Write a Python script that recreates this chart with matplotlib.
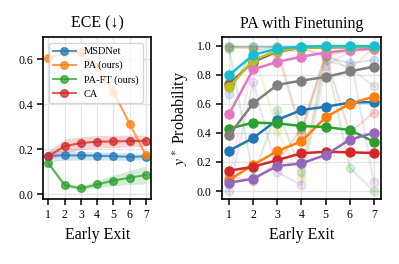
import matplotlib
matplotlib.use("Agg")
import matplotlib.pyplot as plt
import numpy as np

exits = [1, 2, 3, 4, 5, 6, 7]

# ECE per early exit
ece_msdnet = [0.170, 0.172, 0.172, 0.171, 0.168, 0.166, 0.167]
ece_msdnet_lo = [0.145, 0.150, 0.152, 0.152, 0.150, 0.150, 0.152]
ece_msdnet_hi = [0.195, 0.192, 0.190, 0.188, 0.185, 0.182, 0.182]
ece_pa = [0.607, 0.625, 0.630, 0.565, 0.455, 0.313, 0.172]
ece_paft = [0.137, 0.040, 0.025, 0.043, 0.060, 0.073, 0.085]
ece_paft_lo = [0.130, 0.030, 0.018, 0.030, 0.037, 0.042, 0.046]
ece_paft_hi = [0.145, 0.050, 0.035, 0.060, 0.085, 0.105, 0.125]
ece_ca = [0.168, 0.213, 0.227, 0.233, 0.234, 0.236, 0.237]
ece_ca_lo = [0.150, 0.182, 0.198, 0.205, 0.207, 0.210, 0.212]
ece_ca_hi = [0.190, 0.245, 0.255, 0.260, 0.261, 0.262, 0.262]

# y* probability per sample, with finetuning (bold) and without (faint)
prob_ft = [
    [0.278, 0.365, 0.490, 0.557, 0.580, 0.608, 0.612],
    [0.076, 0.180, 0.275, 0.342, 0.507, 0.600, 0.650],
    [0.430, 0.470, 0.466, 0.447, 0.440, 0.420, 0.340],
    [0.140, 0.167, 0.213, 0.260, 0.270, 0.266, 0.262],
    [0.057, 0.085, 0.172, 0.190, 0.248, 0.353, 0.400],
    [0.735, 0.890, 0.960, 0.985, 0.988, 0.990, 0.990],
    [0.530, 0.837, 0.888, 0.924, 0.952, 0.970, 0.977],
    [0.385, 0.603, 0.730, 0.760, 0.784, 0.823, 0.855],
    [0.715, 0.900, 0.965, 0.985, 0.988, 0.990, 0.992],
    [0.798, 0.936, 0.980, 0.993, 0.997, 0.997, 0.997],
]
prob_noft = [
    [0.670, 0.970, 0.990, 0.990, 0.920, 0.880, 0.900],
    [0.990, 0.980, 0.940, 0.400, 0.950, 0.830, 0.990],
    [0.980, 0.100, 0.560, 0.130, 0.930, 0.160, 0.000],
    [0.100, 0.070, 0.200, 0.430, 0.930, 0.400, 0.540],
    [0.000, 0.750, 0.130, 0.040, 0.860, 0.960, 0.060],
    [0.990, 0.990, 0.990, 0.990, 0.990, 0.990, 0.990],
    [0.100, 0.880, 0.950, 0.970, 0.940, 0.960, 0.980],
    [0.990, 0.990, 0.990, 0.400, 0.900, 0.850, 0.720],
    [0.990, 0.980, 0.410, 0.090, 0.920, 0.980, 0.980],
    [0.995, 0.995, 0.995, 0.995, 0.995, 0.995, 0.995],
]

plt.rcParams["font.family"] = "Liberation Serif"
plt.rcParams["mathtext.fontset"] = "stix"

fig = plt.figure(figsize=(3.99, 2.64), dpi=100)
ax1 = fig.add_axes([0.109, 0.246, 0.269, 0.612])
ax2 = fig.add_axes([0.556, 0.246, 0.399, 0.612])

colors = plt.get_cmap("tab10").colors

for ax in (ax1, ax2):
    ax.grid(True, color="#e3e3e3", linewidth=0.9)
    ax.set_axisbelow(True)
    for s in ax.spines.values():
        s.set_linewidth(1.2)
        s.set_color("black")
    ax.tick_params(labelsize=8.5, length=4, width=1.1, color="black")
    ax.set_xticks(exits)
    ax.set_xlabel("Early Exit", fontsize=11.5)

# left: ECE
mk = dict(marker="o", markersize=5.5, linewidth=1.5, alpha=0.75)
ax1.fill_between(exits, ece_msdnet_lo, ece_msdnet_hi, color=colors[0], alpha=0.2, lw=0)
ax1.fill_between(exits, ece_paft_lo, ece_paft_hi, color=colors[2], alpha=0.2, lw=0)
ax1.fill_between(exits, ece_ca_lo, ece_ca_hi, color=colors[3], alpha=0.2, lw=0)
ax1.plot(exits, ece_msdnet, color=colors[0], label="MSDNet", **mk)
ax1.plot(exits, ece_pa, color=colors[1], label="PA (ours)", **mk)
ax1.plot(exits, ece_paft, color=colors[2], label="PA-FT (ours)", **mk)
ax1.plot(exits, ece_ca, color=colors[3], label="CA", **mk)
ax1.set_ylim(-0.022, 0.696)
ax1.set_yticks([0.0, 0.2, 0.4, 0.6])
ax1.set_title("ECE (↓)", fontsize=11.5, pad=7)
ax1.legend(loc="upper left", fontsize=7.5, framealpha=0.8, borderpad=0.4,
           handlelength=2.2, labelspacing=0.45, edgecolor="#cccccc")

# right: y* probability
for i, row in enumerate(prob_noft):
    ax2.plot(exits, row, color=colors[i], marker="o", markersize=6, linewidth=1.5, alpha=0.18)
for i, row in enumerate(prob_ft):
    ax2.plot(exits, row, color=colors[i], marker="o", markersize=6.5, linewidth=1.8)
ax2.set_ylim(-0.055, 1.056)
ax2.set_yticks([0.0, 0.2, 0.4, 0.6, 0.8, 1.0])
ax2.set_ylabel("$y^*$ Probability", fontsize=11.5)
ax2.set_title("PA with Finetuning", fontsize=11.5, pad=7)

fig.savefig("out.png", dpi=100)
